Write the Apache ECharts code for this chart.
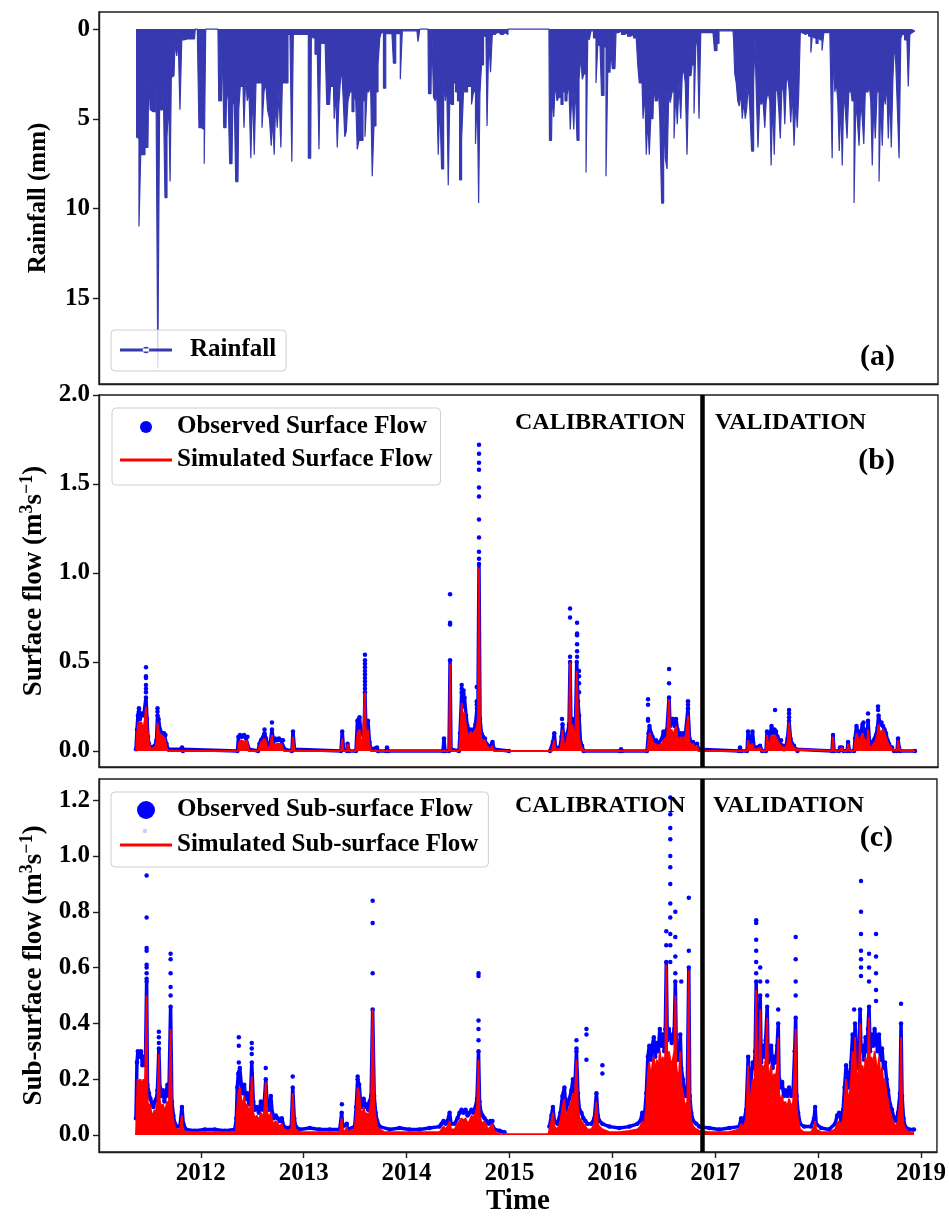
<!DOCTYPE html>
<html>
<head>
<meta charset="utf-8">
<script src="https://cdn.jsdelivr.net/npm/echarts@6/dist/echarts.min.js"></script>
<style>
html,body{margin:0;padding:0;background:#ffffff;}
#chart{width:949px;height:1218px;}
</style>
</head>
<body>
<div id="chart"></div>
<script>
// ---- Daily rainfall (mm), [decimal year, mm] ----
const rainfall = [
[2011.369,6.0],[2011.388,6.1],[2011.408,11.0],[2011.422,7.0],[2011.447,7.0],[2011.466,6.6],[2011.485,6.6],[2011.500,2.6],[2011.514,4.5],[2011.534,4.6],[2011.553,4.6],[2011.573,2.7],[2011.589,18.9],[2011.607,4.5],[2011.626,4.5],[2011.641,3.0],[2011.660,9.4],[2011.680,6.0],[2011.694,4.0],[2011.706,8.5],[2011.718,2.7],[2011.738,2.6],[2011.757,0.8],[2011.772,1.5],[2011.786,0.7],[2011.806,4.5],[2011.821,0.6],[2011.845,0.55],[2011.893,0.55],[2011.937,0.55],[2011.952,0],[2011.976,0],[2011.985,5.5],
[2012.005,5.5],[2012.024,5.6],[2012.039,7.5],[2012.053,0],[2012.165,0],[2012.180,4.0],[2012.199,4.0],[2012.214,0],[2012.228,5.5],[2012.243,5.5],[2012.257,3.0],[2012.272,4.0],[2012.286,7.5],[2012.301,7.5],[2012.316,4.2],[2012.330,4.0],[2012.345,8.5],[2012.359,8.5],[2012.374,4.5],[2012.389,3.2],[2012.408,3.2],[2012.427,5.5],[2012.442,2.6],[2012.456,4.0],[2012.476,3.5],[2012.492,7.2],[2012.510,3.4],[2012.524,7.0],[2012.544,3.0],[2012.563,3.0],[2012.583,3.0],[2012.602,5.5],[2012.621,3.5],[2012.638,3.0],[2012.655,4.5],[2012.675,5.0],[2012.689,6.5],[2012.704,5.0],[2012.718,7.0],[2012.733,4.0],[2012.748,5.5],[2012.767,3.5],[2012.784,6.6],[2012.796,3.0],[2012.816,3.0],[2012.835,3.0],[2012.854,0.3],[2012.874,0.3],[2012.890,7.4],[2012.903,0.3],[2012.961,0.3],
[2013.019,0.3],[2013.065,7.2],[2013.078,0.3],[2013.097,0.5],[2013.117,1.4],[2013.136,0.3],[2013.155,6.7],[2013.170,0.8],[2013.194,0.8],[2013.214,0.5],[2013.228,4.2],[2013.248,4.2],[2013.267,3.2],[2013.286,3.2],[2013.301,5.0],[2013.316,3.5],[2013.330,6.6],[2013.345,4.3],[2013.359,3.0],[2013.374,2.2],[2013.389,4.0],[2013.403,6.0],[2013.418,5.7],[2013.437,4.0],[2013.456,3.5],[2013.476,4.6],[2013.495,3.5],[2013.510,4.0],[2013.524,6.7],[2013.544,6.2],[2013.563,6.2],[2013.583,4.0],[2013.602,6.0],[2013.621,3.5],[2013.641,3.0],[2013.655,3.5],[2013.670,8.2],[2013.689,5.4],[2013.709,3.5],[2013.728,2.0],[2013.743,0.5],[2013.757,0.2],[2013.786,3.3],[2013.801,0.25],[2013.854,0.25],[2013.883,1.9],[2013.898,0.25],[2013.922,0.25],[2013.948,2.8],[2013.961,0.1],
[2014.029,0.1],[2014.097,0.1],[2014.117,0.7],[2014.131,0],[2014.204,0],[2014.214,3.6],[2014.233,3.6],[2014.248,0],[2014.267,3.8],[2014.282,4.0],[2014.296,3.5],[2014.311,7.0],[2014.325,4.0],[2014.347,7.8],[2014.364,2.5],[2014.379,4.0],[2014.393,3.0],[2014.408,8.7],[2014.422,4.0],[2014.442,4.2],[2014.461,3.0],[2014.481,3.5],[2014.500,4.0],[2014.521,8.4],[2014.539,6.2],[2014.558,3.5],[2014.578,3.5],[2014.597,3.2],[2014.617,3.2],[2014.636,4.2],[2014.655,3.5],[2014.675,6.4],[2014.689,3.6],[2014.702,9.7],[2014.714,3.6],[2014.733,2.0],[2014.753,0.4],[2014.767,0.4],[2014.787,5.4],[2014.801,0.5],[2014.821,2.4],[2014.835,0.3],[2014.874,0.2],[2014.913,0.3],[2014.952,0.2],[2014.971,0.3],[2014.990,0],
[2015.378,0],[2015.388,6.2],[2015.403,6.2],[2015.417,3.5],[2015.432,4.9],[2015.447,3.0],[2015.466,4.0],[2015.485,3.8],[2015.505,4.2],[2015.524,3.5],[2015.544,4.0],[2015.563,3.7],[2015.578,3.0],[2015.592,5.6],[2015.612,3.5],[2015.626,5.6],[2015.641,3.0],[2015.660,6.2],[2015.680,2.8],[2015.694,1.5],[2015.709,2.8],[2015.728,2.5],[2015.748,8.0],[2015.762,0.4],[2015.777,0.6],[2015.796,0.1],[2015.825,0.5],[2015.845,3.0],[2015.859,0.9],[2015.874,0.9],[2015.903,3.7],[2015.922,1.0],[2015.942,8.2],[2015.956,2.4],[2015.971,2.4],[2015.985,1.0],
[2016.000,2.2],[2016.019,2.2],[2016.039,0.2],[2016.068,0.1],[2016.097,0.3],[2016.126,0.2],[2016.155,0.4],[2016.184,0.3],[2016.214,0.5],[2016.233,0.3],[2016.248,2.0],[2016.262,3.0],[2016.282,3.0],[2016.301,5.0],[2016.316,3.5],[2016.330,7.0],[2016.345,5.0],[2016.359,7.0],[2016.374,5.0],[2016.388,5.0],[2016.403,3.0],[2016.417,4.0],[2016.432,4.0],[2016.447,3.0],[2016.461,5.0],[2016.483,9.7],[2016.500,4.0],[2016.515,7.2],[2016.534,7.8],[2016.549,3.5],[2016.563,4.1],[2016.583,3.5],[2016.602,6.1],[2016.617,3.5],[2016.631,5.3],[2016.650,3.0],[2016.665,5.0],[2016.680,2.5],[2016.694,2.3],[2016.709,3.0],[2016.728,7.0],[2016.743,2.6],[2016.757,2.6],[2016.777,2.0],[2016.796,4.7],[2016.811,1.0],[2016.825,0.2],[2016.845,5.0],[2016.859,0.2],[2016.912,0.2],[2016.971,0.2],
[2017.000,1.2],[2017.019,0.8],[2017.039,0.1],[2017.165,0.1],[2017.175,0.5],[2017.189,2.5],[2017.204,3.0],[2017.218,4.0],[2017.233,4.3],[2017.248,3.5],[2017.262,5.0],[2017.277,4.0],[2017.291,5.0],[2017.306,4.4],[2017.320,3.0],[2017.335,4.4],[2017.356,6.8],[2017.374,3.0],[2017.383,0.6],[2017.398,3.5],[2017.417,6.6],[2017.432,4.0],[2017.447,4.2],[2017.466,4.0],[2017.480,5.5],[2017.495,4.0],[2017.515,3.5],[2017.529,4.0],[2017.541,7.6],[2017.558,4.0],[2017.573,7.0],[2017.587,3.5],[2017.602,3.3],[2017.617,4.5],[2017.631,6.1],[2017.646,3.5],[2017.660,3.0],[2017.675,5.3],[2017.689,3.0],[2017.704,2.6],[2017.718,3.5],[2017.733,5.2],[2017.748,3.5],[2017.767,6.5],[2017.782,4.0],[2017.796,5.5],[2017.811,3.5],[2017.825,0.2],[2017.854,0.3],[2017.884,0.2],[2017.913,0.4],[2017.929,1.3],[2017.942,0.3],[2017.961,0.5],[2017.981,0.8],
[2018.000,0.4],[2018.019,0.6],[2018.039,1.2],[2018.054,0.2],[2018.088,0.2],[2018.122,0.2],[2018.133,7.2],[2018.146,1.0],[2018.160,3.5],[2018.175,3.0],[2018.189,4.0],[2018.204,6.8],[2018.218,4.0],[2018.233,7.6],[2018.248,3.5],[2018.262,4.5],[2018.282,6.1],[2018.296,3.5],[2018.311,3.5],[2018.330,4.0],[2018.350,9.7],[2018.364,4.0],[2018.379,5.0],[2018.398,6.5],[2018.413,4.0],[2018.427,5.0],[2018.442,6.4],[2018.456,3.5],[2018.476,3.5],[2018.495,3.0],[2018.510,4.0],[2018.524,7.6],[2018.539,4.0],[2018.553,6.1],[2018.573,3.5],[2018.592,8.5],[2018.607,4.0],[2018.621,6.5],[2018.636,3.5],[2018.650,4.2],[2018.665,3.0],[2018.680,6.1],[2018.694,3.5],[2018.709,6.6],[2018.723,3.0],[2018.738,0.7],[2018.753,2.0],[2018.767,4.3],[2018.787,7.2],[2018.801,0.5],[2018.816,0.3],[2018.845,0.6],[2018.859,0.3],[2018.874,3.2],[2018.889,0.3],[2018.903,0.2],[2018.932,0.1]
];

// ---- Surface flow (m3/s) ----
const surfaceSimulated = [
[2011.369,0],[2011.379,0.10],[2011.393,0.16],[2011.408,0.15],[2011.422,0.16],[2011.437,0.12],[2011.451,0.16],[2011.466,0.25],[2011.481,0.12],[2011.495,0.05],[2011.510,0.01],[2011.553,0.02],[2011.568,0.05],[2011.578,0.16],[2011.592,0.10],[2011.612,0.09],[2011.631,0.08],[2011.650,0.07],[2011.665,0.02],[2011.680,0],[2011.806,0],[2011.816,0.01],[2011.825,0],
[2012.359,0],[2012.369,0.05],[2012.389,0.06],[2012.408,0.06],[2012.427,0.05],[2012.447,0.06],[2012.461,0],[2012.554,0],[2012.568,0.03],[2012.583,0.05],[2012.602,0.04],[2012.617,0.07],[2012.631,0.05],[2012.646,0.02],[2012.670,0.02],[2012.689,0.09],[2012.704,0.03],[2012.718,0.04],[2012.738,0.04],[2012.757,0.05],[2012.777,0.04],[2012.796,0.04],[2012.806,0],[2012.883,0],[2012.893,0.08],[2012.908,0],
[2013.359,0],[2013.371,0.07],[2013.384,0],[2013.418,0],[2013.423,0.04],[2013.437,0],[2013.505,0],[2013.519,0.10],[2013.539,0.12],[2013.553,0.06],[2013.568,0.04],[2013.583,0.05],[2013.592,0.33],[2013.602,0.06],[2013.621,0.12],[2013.636,0.03],[2013.650,0],
[2014.408,0],[2014.418,0.49],[2014.427,0],[2014.505,0],[2014.515,0.06],[2014.531,0.27],[2014.544,0.17],[2014.558,0.22],[2014.573,0.14],[2014.587,0.10],[2014.602,0.08],[2014.617,0.11],[2014.631,0.09],[2014.650,0.10],[2014.665,0.12],[2014.680,0.14],[2014.689,0.20],[2014.699,1.03],[2014.709,0.15],[2014.723,0.06],[2014.738,0.05],[2014.757,0.06],[2014.772,0.03],[2014.787,0.02],[2014.806,0.01],[2014.830,0.03],[2014.845,0],
[2015.408,0],[2015.417,0.03],[2015.430,0.06],[2015.442,0.01],[2015.485,0.01],[2015.500,0.05],[2015.510,0.12],[2015.524,0.03],[2015.544,0.04],[2015.558,0.08],[2015.573,0.12],[2015.583,0.50],[2015.592,0.10],[2015.607,0.15],[2015.621,0.10],[2015.636,0.12],[2015.648,0.45],[2015.660,0.20],[2015.670,0.08],[2015.684,0.03],[2015.699,0.02],[2015.714,0],
[2016.330,0],[2016.345,0.06],[2016.354,0.10],[2016.369,0.08],[2016.383,0.06],[2016.398,0.04],[2016.417,0.05],[2016.437,0.03],[2016.456,0.02],[2016.476,0.04],[2016.490,0.06],[2016.505,0.05],[2016.524,0.08],[2016.544,0.29],[2016.554,0.10],[2016.568,0.12],[2016.583,0.09],[2016.597,0.10],[2016.612,0.14],[2016.626,0.08],[2016.641,0.05],[2016.655,0.08],[2016.670,0.06],[2016.685,0.08],[2016.699,0.05],[2016.714,0.04],[2016.728,0.20],[2016.743,0.05],[2016.757,0.03],[2016.777,0.04],[2016.796,0.02],[2016.816,0.03],[2016.830,0],
[2017.223,0],[2017.233,0.01],[2017.243,0],[2017.301,0],[2017.311,0.06],[2017.325,0.03],[2017.340,0.02],[2017.354,0.04],[2017.369,0.01],[2017.398,0.01],[2017.427,0.02],[2017.447,0],[2017.485,0],[2017.495,0.09],[2017.510,0.03],[2017.524,0.05],[2017.539,0.09],[2017.553,0.07],[2017.568,0.09],[2017.582,0.08],[2017.597,0.06],[2017.612,0.04],[2017.631,0.05],[2017.646,0.02],[2017.660,0.01],[2017.680,0.02],[2017.694,0.05],[2017.709,0.16],[2017.723,0.05],[2017.738,0.03],[2017.757,0.02],[2017.777,0.01],[2017.791,0],
[2018.126,0],[2018.136,0.08],[2018.146,0],[2018.194,0],[2018.204,0.01],[2018.223,0.02],[2018.238,0],[2018.272,0],[2018.282,0.04],[2018.296,0],[2018.340,0],[2018.350,0.05],[2018.364,0.10],[2018.379,0.07],[2018.393,0.04],[2018.408,0.08],[2018.422,0.10],[2018.437,0.07],[2018.451,0.06],[2018.466,0.04],[2018.476,0.12],[2018.490,0.03],[2018.505,0.01],[2018.519,0.03],[2018.534,0.04],[2018.553,0.06],[2018.568,0.10],[2018.578,0.15],[2018.592,0.10],[2018.607,0.11],[2018.621,0.12],[2018.636,0.10],[2018.650,0.09],[2018.665,0.05],[2018.680,0.03],[2018.694,0.02],[2018.709,0.01],[2018.728,0],[2018.757,0],[2018.767,0.06],[2018.777,0.02],[2018.787,0],[2018.932,0]
];

// observed daily surface flow (null = no record)
const surfaceObserved = [
[2011.369,0.01],[2011.379,0.12],[2011.388,0.20],[2011.398,0.24],[2011.408,0.18],[2011.418,0.21],[2011.432,0.20],[2011.447,0.21],[2011.456,0.20],[2011.466,0.30],[2011.476,0.18],[2011.485,0.08],[2011.495,0.04],[2011.510,0.02],[2011.553,0.03],[2011.568,0.06],[2011.578,0.20],[2011.588,0.18],[2011.602,0.12],[2011.621,0.10],[2011.641,0.10],[2011.655,0.09],[2011.665,0.04],[2011.680,0.01],[2011.806,0.01],[2011.816,0.02],[2011.825,0],
[2012.354,0],[2012.364,0.08],[2012.379,0.09],[2012.398,0.08],[2012.418,0.09],[2012.437,0.07],[2012.451,0.08],[2012.466,0.01],[2012.554,0],[2012.568,0.04],[2012.583,0.06],[2012.602,0.07],[2012.617,0.10],[2012.631,0.07],[2012.650,0.03],[2012.670,0.03],[2012.689,0.12],[2012.704,0.05],[2012.718,0.07],[2012.738,0.06],[2012.757,0.07],[2012.777,0.06],[2012.796,0.06],[2012.811,0.01],[2012.883,0],[2012.893,0.11],[2012.908,0.01],
[2013.359,0],[2013.371,0.11],[2013.384,0.01],[2013.418,0],[2013.423,0.04],[2013.437,0],[2013.505,0],[2013.519,0.17],[2013.539,0.19],[2013.553,0.10],[2013.568,0.10],[2013.583,0.08],[2013.592,0.33],[2013.602,0.10],[2013.621,0.17],[2013.636,0.05],[2013.650,0.01],[2013.709,0.02],[2013.718,0],[2013.796,0],[2013.806,0.02],[2013.816,0],
[2014.350,0],[2014.359,0.07],[2014.369,0],[2014.408,0],[2014.418,0.51],[2014.427,0.01],[2014.505,0],[2014.515,0.10],[2014.531,0.33],[2014.544,0.25],[2014.558,0.30],[2014.573,0.20],[2014.587,0.14],[2014.602,0.10],[2014.617,0.12],[2014.631,0.10],[2014.650,0.12],[2014.665,0.15],[2014.680,0.24],[2014.689,0.26],[2014.699,1.05],[2014.709,0.18],[2014.723,0.10],[2014.738,0.08],[2014.757,0.07],[2014.772,0.04],[2014.787,0.03],[2014.806,0.02],[2014.830,0.05],[2014.845,0.01],[2014.990,0],
[2015.200,null],
[2015.388,0],[2015.417,0.05],[2015.430,0.10],[2015.442,0.02],[2015.485,0.02],[2015.500,0.08],[2015.510,0.15],[2015.524,0.05],[2015.544,0.06],[2015.558,0.10],[2015.573,0.15],[2015.583,0.50],[2015.592,0.14],[2015.607,0.18],[2015.621,0.12],[2015.636,0.15],[2015.648,0.50],[2015.660,0.28],[2015.670,0.20],[2015.684,0.05],[2015.699,0.03],[2015.714,0],
[2016.068,0],[2016.078,0.01],[2016.087,0],[2016.330,0],[2016.345,0.10],[2016.354,0.14],[2016.369,0.10],[2016.383,0.08],[2016.398,0.06],[2016.417,0.06],[2016.437,0.04],[2016.456,0.03],[2016.476,0.07],[2016.490,0.11],[2016.505,0.08],[2016.524,0.12],[2016.544,0.30],[2016.554,0.14],[2016.568,0.16],[2016.583,0.18],[2016.597,0.14],[2016.612,0.18],[2016.626,0.12],[2016.641,0.08],[2016.655,0.10],[2016.670,0.08],[2016.685,0.10],[2016.699,0.07],[2016.714,0.06],[2016.728,0.24],[2016.743,0.07],[2016.757,0.04],[2016.777,0.05],[2016.796,0.03],[2016.816,0.04],[2016.830,0.01],
[2017.223,0],[2017.233,0.02],[2017.243,0],[2017.301,0],[2017.311,0.11],[2017.325,0.05],[2017.340,0.03],[2017.354,0.11],[2017.369,0.02],[2017.398,0.02],[2017.427,0.03],[2017.447,0],[2017.485,0],[2017.495,0.11],[2017.510,0.05],[2017.524,0.08],[2017.539,0.14],[2017.553,0.10],[2017.568,0.12],[2017.582,0.11],[2017.597,0.08],[2017.612,0.05],[2017.631,0.06],[2017.646,0.03],[2017.660,0.01],[2017.680,0.03],[2017.694,0.07],[2017.709,0.17],[2017.723,0.07],[2017.738,0.04],[2017.757,0.03],[2017.777,0.01],[2017.791,0],
[2018.126,0],[2018.136,0.09],[2018.146,0],[2018.194,0],[2018.204,0.02],[2018.223,0.02],[2018.238,0],[2018.272,0],[2018.282,0.05],[2018.296,0],[2018.340,0],[2018.350,0.07],[2018.364,0.14],[2018.379,0.10],[2018.393,0.06],[2018.408,0.11],[2018.422,0.15],[2018.437,0.12],[2018.451,0.08],[2018.466,0.06],[2018.476,0.17],[2018.490,0.05],[2018.505,0.02],[2018.519,0.05],[2018.534,0.06],[2018.553,0.09],[2018.568,0.13],[2018.578,0.20],[2018.592,0.15],[2018.607,0.16],[2018.621,0.14],[2018.636,0.12],[2018.650,0.10],[2018.665,0.06],[2018.680,0.04],[2018.694,0.02],[2018.709,0.02],[2018.728,0],[2018.757,0],[2018.767,0.07],[2018.777,0.02],[2018.787,0],[2018.932,0]
];

// observed surface flow on peak days: [decimal year, [values]]
const surfacePeaks = [
[2011.398,[0.22]],[2011.466,[0.47,0.42,0.41,0.37,0.35,0.33]],[2011.578,[0.24,0.22]],
[2012.617,[0.12]],[2012.689,[0.16]],
[2013.592,[0.54,0.51,0.49,0.47,0.45,0.43,0.41,0.39,0.37,0.35]],
[2014.418,[0.88,0.72,0.71]],[2014.531,[0.37,0.35]],[2014.549,[0.34,0.32]],[2014.677,[0.36,0.28,0.26]],
[2014.699,[1.72,1.67,1.62,1.58,1.48,1.43,1.30,1.20,1.12,1.08]],
[2015.505,[0.18]],[2015.583,[0.80,0.75,0.53]],[2015.651,[0.72,0.66,0.65,0.60,0.56,0.53]],[2015.670,[0.45,0.42,0.38,0.33]],
[2016.340,[0.29,0.26,0.18,0.17]],[2016.544,[0.46,0.38]],[2016.578,[0.18]],[2016.728,[0.28,0.26]],
[2017.573,[0.23]],[2017.709,[0.23,0.21,0.19]],
[2018.432,[0.16]],[2018.476,[0.21]],[2018.573,[0.25,0.23]]
];

// ---- Sub-surface flow (m3/s) ----
const subsurfaceSimulated = [
[2011.369,0],[2011.374,0.06],[2011.384,0.20],[2011.398,0.19],[2011.413,0.20],[2011.427,0.18],[2011.442,0.20],[2011.456,0.18],[2011.473,0.50],[2011.481,0.13],[2011.490,0.10],[2011.505,0.11],[2011.519,0.08],[2011.534,0.07],[2011.549,0.09],[2011.563,0.08],[2011.578,0.12],[2011.592,0.29],[2011.602,0.12],[2011.617,0.10],[2011.631,0.11],[2011.646,0.09],[2011.660,0.10],[2011.675,0.12],[2011.689,0.10],[2011.706,0.38],[2011.718,0.09],[2011.733,0.05],[2011.748,0.03],[2011.767,0.02],[2011.796,0.02],[2011.816,0.07],[2011.825,0.02],[2011.855,0.01],[2011.990,0.01],
[2012.136,0.01],[2012.282,0.01],[2012.340,0.01],[2012.350,0.08],[2012.364,0.15],[2012.379,0.17],[2012.393,0.13],[2012.408,0.10],[2012.422,0.14],[2012.437,0.09],[2012.451,0.11],[2012.466,0.08],[2012.481,0.10],[2012.495,0.21],[2012.510,0.08],[2012.524,0.06],[2012.544,0.07],[2012.563,0.05],[2012.583,0.08],[2012.602,0.06],[2012.617,0.09],[2012.631,0.19],[2012.646,0.08],[2012.660,0.06],[2012.680,0.08],[2012.694,0.05],[2012.709,0.04],[2012.728,0.05],[2012.748,0.04],[2012.767,0.03],[2012.787,0.04],[2012.806,0.02],[2012.845,0.015],[2012.879,0.02],[2012.893,0.15],[2012.908,0.04],[2012.922,0.02],[2012.961,0.01],
[2013.155,0.01],[2013.350,0.01],[2013.359,0.03],[2013.369,0.06],[2013.379,0.02],[2013.408,0.01],[2013.418,0.03],[2013.427,0.01],[2013.495,0.02],[2013.510,0.08],[2013.524,0.17],[2013.539,0.15],[2013.553,0.09],[2013.568,0.07],[2013.583,0.10],[2013.597,0.07],[2013.612,0.08],[2013.626,0.06],[2013.641,0.09],[2013.655,0.12],[2013.670,0.45],[2013.685,0.12],[2013.699,0.06],[2013.714,0.03],[2013.738,0.02],[2013.786,0.01],[2013.932,0.01],
[2014.126,0.01],[2014.320,0.01],[2014.340,0.02],[2014.359,0.03],[2014.379,0.02],[2014.398,0.03],[2014.418,0.05],[2014.432,0.02],[2014.466,0.02],[2014.495,0.04],[2014.515,0.05],[2014.534,0.06],[2014.553,0.05],[2014.573,0.06],[2014.592,0.04],[2014.612,0.05],[2014.631,0.07],[2014.650,0.06],[2014.670,0.08],[2014.684,0.10],[2014.699,0.27],[2014.709,0.08],[2014.723,0.05],[2014.738,0.04],[2014.757,0.05],[2014.777,0.03],[2014.796,0.02],[2014.816,0.03],[2014.835,0.04],[2014.855,0.01],[2014.903,0.003],
[2015.378,0.003],[2015.388,0.02],[2015.408,0.05],[2015.422,0.08],[2015.437,0.03],[2015.466,0.02],[2015.495,0.05],[2015.515,0.10],[2015.534,0.13],[2015.549,0.06],[2015.563,0.08],[2015.583,0.10],[2015.602,0.12],[2015.617,0.15],[2015.631,0.10],[2015.651,0.27],[2015.665,0.10],[2015.680,0.06],[2015.699,0.05],[2015.718,0.04],[2015.738,0.03],[2015.757,0.02],[2015.796,0.02],[2015.825,0.04],[2015.845,0.12],[2015.859,0.04],[2015.874,0.03],[2015.903,0.02],[2015.971,0.01],
[2016.068,0.01],[2016.165,0.015],[2016.243,0.02],[2016.272,0.03],[2016.291,0.05],[2016.306,0.02],[2016.330,0.10],[2016.345,0.22],[2016.359,0.26],[2016.374,0.20],[2016.388,0.25],[2016.403,0.28],[2016.417,0.22],[2016.432,0.27],[2016.447,0.23],[2016.461,0.30],[2016.476,0.25],[2016.490,0.28],[2016.505,0.24],[2016.515,0.30],[2016.524,0.61],[2016.534,0.26],[2016.549,0.30],[2016.563,0.27],[2016.578,0.25],[2016.592,0.28],[2016.602,0.30],[2016.612,0.50],[2016.621,0.25],[2016.636,0.20],[2016.650,0.23],[2016.660,0.30],[2016.670,0.18],[2016.685,0.15],[2016.699,0.12],[2016.714,0.10],[2016.728,0.12],[2016.743,0.59],[2016.752,0.10],[2016.767,0.05],[2016.786,0.03],[2016.816,0.02],[2016.845,0.015],[2016.942,0.01],
[2017.039,0.01],[2017.136,0.01],[2017.233,0.02],[2017.252,0.04],[2017.272,0.02],[2017.301,0.06],[2017.320,0.25],[2017.335,0.08],[2017.349,0.15],[2017.364,0.20],[2017.379,0.18],[2017.388,0.25],[2017.398,0.52],[2017.408,0.22],[2017.422,0.18],[2017.437,0.45],[2017.447,0.20],[2017.461,0.25],[2017.476,0.22],[2017.490,0.28],[2017.505,0.42],[2017.515,0.20],[2017.529,0.22],[2017.544,0.25],[2017.558,0.18],[2017.573,0.22],[2017.587,0.20],[2017.602,0.25],[2017.612,0.35],[2017.621,0.15],[2017.636,0.12],[2017.651,0.14],[2017.665,0.10],[2017.680,0.12],[2017.699,0.10],[2017.718,0.13],[2017.738,0.10],[2017.757,0.12],[2017.772,0.25],[2017.782,0.38],[2017.791,0.10],[2017.806,0.05],[2017.825,0.02],[2017.864,0.01],[2017.932,0.01],[2017.961,0.03],[2017.971,0.05],[2017.981,0.02],
[2018.029,0.01],[2018.107,0.01],[2018.165,0.02],[2018.185,0.04],[2018.204,0.05],[2018.223,0.03],[2018.243,0.06],[2018.257,0.12],[2018.272,0.20],[2018.287,0.15],[2018.301,0.12],[2018.320,0.20],[2018.335,0.30],[2018.350,0.20],[2018.359,0.35],[2018.374,0.18],[2018.388,0.22],[2018.398,0.25],[2018.408,0.40],[2018.417,0.22],[2018.432,0.25],[2018.447,0.20],[2018.461,0.28],[2018.476,0.22],[2018.485,0.30],[2018.495,0.42],[2018.505,0.22],[2018.519,0.28],[2018.534,0.25],[2018.549,0.30],[2018.563,0.26],[2018.578,0.22],[2018.592,0.28],[2018.607,0.20],[2018.621,0.24],[2018.636,0.18],[2018.650,0.20],[2018.665,0.15],[2018.680,0.12],[2018.699,0.08],[2018.718,0.06],[2018.738,0.04],[2018.757,0.03],[2018.777,0.05],[2018.796,0.12],[2018.806,0.35],[2018.816,0.10],[2018.830,0.04],[2018.845,0.02],[2018.884,0.01],[2018.932,0.01]
];

// observed daily sub-surface flow (null = no record)
const subsurfaceObserved = [
[2011.369,0.06],[2011.379,0.26],[2011.388,0.30],[2011.403,0.28],[2011.418,0.30],[2011.432,0.25],[2011.447,0.28],[2011.461,0.25],[2011.473,0.55],[2011.481,0.18],[2011.495,0.15],[2011.510,0.13],[2011.524,0.11],[2011.539,0.10],[2011.553,0.12],[2011.568,0.13],[2011.578,0.16],[2011.592,0.31],[2011.602,0.17],[2011.617,0.14],[2011.631,0.16],[2011.646,0.12],[2011.660,0.15],[2011.675,0.18],[2011.689,0.14],[2011.706,0.46],[2011.718,0.12],[2011.733,0.07],[2011.748,0.04],[2011.767,0.03],[2011.796,0.03],[2011.816,0.10],[2011.830,0.04],[2011.855,0.02],[2011.942,0.015],
[2012.039,0.02],[2012.136,0.02],[2012.233,0.015],[2012.330,0.02],[2012.345,0.06],[2012.354,0.17],[2012.364,0.22],[2012.379,0.24],[2012.393,0.18],[2012.408,0.15],[2012.422,0.18],[2012.437,0.13],[2012.451,0.15],[2012.466,0.11],[2012.481,0.13],[2012.495,0.26],[2012.510,0.12],[2012.524,0.09],[2012.544,0.10],[2012.563,0.08],[2012.583,0.12],[2012.602,0.09],[2012.617,0.12],[2012.631,0.20],[2012.646,0.10],[2012.660,0.09],[2012.680,0.14],[2012.694,0.08],[2012.709,0.06],[2012.728,0.07],[2012.748,0.06],[2012.767,0.05],[2012.787,0.06],[2012.806,0.03],[2012.845,0.025],[2012.879,0.03],[2012.893,0.17],[2012.908,0.06],[2012.922,0.03],[2012.961,0.02],
[2013.058,0.025],[2013.155,0.02],[2013.252,0.02],[2013.350,0.02],[2013.369,0.08],[2013.379,0.03],[2013.418,0.04],[2013.427,0.02],[2013.495,0.03],[2013.510,0.10],[2013.524,0.20],[2013.539,0.18],[2013.553,0.12],[2013.568,0.10],[2013.583,0.13],[2013.597,0.10],[2013.612,0.11],[2013.626,0.09],[2013.641,0.12],[2013.655,0.14],[2013.670,0.45],[2013.685,0.14],[2013.699,0.08],[2013.714,0.05],[2013.738,0.03],[2013.835,0.02],[2013.932,0.025],
[2014.029,0.02],[2014.126,0.02],[2014.223,0.025],[2014.320,0.03],[2014.340,0.04],[2014.359,0.05],[2014.379,0.04],[2014.398,0.05],[2014.418,0.08],[2014.432,0.04],[2014.466,0.04],[2014.495,0.06],[2014.515,0.08],[2014.534,0.09],[2014.553,0.08],[2014.573,0.09],[2014.592,0.07],[2014.612,0.08],[2014.631,0.09],[2014.650,0.08],[2014.670,0.10],[2014.684,0.13],[2014.699,0.30],[2014.709,0.12],[2014.723,0.08],[2014.738,0.07],[2014.757,0.06],[2014.777,0.05],[2014.796,0.04],[2014.816,0.05],[2014.835,0.05],[2014.855,0.02],[2014.903,0.015],[2014.952,0.01],
[2015.200,null],
[2015.388,0.03],[2015.408,0.07],[2015.422,0.10],[2015.437,0.05],[2015.466,0.04],[2015.495,0.08],[2015.515,0.14],[2015.534,0.17],[2015.549,0.09],[2015.563,0.11],[2015.583,0.13],[2015.602,0.16],[2015.617,0.20],[2015.631,0.14],[2015.651,0.30],[2015.665,0.15],[2015.680,0.09],[2015.699,0.08],[2015.718,0.06],[2015.738,0.05],[2015.757,0.04],[2015.796,0.04],[2015.825,0.06],[2015.845,0.15],[2015.859,0.07],[2015.874,0.05],[2015.903,0.04],[2015.971,0.03],
[2016.068,0.025],[2016.165,0.03],[2016.243,0.04],[2016.272,0.05],[2016.291,0.08],[2016.306,0.04],[2016.330,0.15],[2016.345,0.28],[2016.359,0.32],[2016.374,0.27],[2016.388,0.32],[2016.403,0.35],[2016.417,0.28],[2016.432,0.33],[2016.447,0.30],[2016.461,0.38],[2016.476,0.32],[2016.490,0.36],[2016.505,0.30],[2016.515,0.38],[2016.524,0.62],[2016.534,0.34],[2016.549,0.38],[2016.563,0.35],[2016.578,0.33],[2016.592,0.36],[2016.602,0.38],[2016.612,0.55],[2016.621,0.32],[2016.636,0.27],[2016.650,0.30],[2016.660,0.36],[2016.670,0.24],[2016.685,0.20],[2016.699,0.16],[2016.714,0.14],[2016.728,0.16],[2016.743,0.60],[2016.752,0.14],[2016.767,0.08],[2016.786,0.05],[2016.816,0.04],[2016.845,0.03],[2016.942,0.025],
[2017.039,0.02],[2017.136,0.025],[2017.233,0.03],[2017.252,0.06],[2017.272,0.04],[2017.301,0.09],[2017.320,0.28],[2017.335,0.12],[2017.349,0.20],[2017.364,0.26],[2017.379,0.24],[2017.388,0.30],[2017.398,0.55],[2017.408,0.28],[2017.422,0.24],[2017.437,0.50],[2017.447,0.26],[2017.461,0.32],[2017.476,0.28],[2017.490,0.34],[2017.505,0.46],[2017.515,0.26],[2017.529,0.28],[2017.544,0.32],[2017.558,0.24],[2017.573,0.28],[2017.587,0.26],[2017.602,0.32],[2017.612,0.40],[2017.621,0.20],[2017.636,0.17],[2017.651,0.19],[2017.665,0.14],[2017.680,0.16],[2017.699,0.14],[2017.718,0.17],[2017.738,0.14],[2017.757,0.16],[2017.772,0.30],[2017.782,0.42],[2017.791,0.14],[2017.806,0.08],[2017.825,0.04],[2017.864,0.03],[2017.932,0.03],[2017.961,0.06],[2017.971,0.10],[2017.981,0.04],
[2018.029,0.025],[2018.107,0.02],[2018.165,0.04],[2018.185,0.07],[2018.204,0.08],[2018.223,0.05],[2018.243,0.09],[2018.257,0.17],[2018.272,0.25],[2018.287,0.20],[2018.301,0.17],[2018.320,0.26],[2018.335,0.36],[2018.350,0.26],[2018.359,0.40],[2018.374,0.24],[2018.388,0.28],[2018.398,0.32],[2018.408,0.45],[2018.417,0.30],[2018.432,0.32],[2018.447,0.27],[2018.461,0.35],[2018.476,0.30],[2018.485,0.38],[2018.495,0.46],[2018.505,0.30],[2018.519,0.36],[2018.534,0.32],[2018.549,0.38],[2018.563,0.34],[2018.578,0.30],[2018.592,0.36],[2018.607,0.27],[2018.621,0.31],[2018.636,0.24],[2018.650,0.26],[2018.665,0.20],[2018.680,0.16],[2018.699,0.11],[2018.718,0.09],[2018.738,0.06],[2018.757,0.05],[2018.777,0.08],[2018.796,0.15],[2018.806,0.40],[2018.816,0.14],[2018.830,0.06],[2018.845,0.03],[2018.884,0.02],[2018.932,0.02]
];

// observed sub-surface flow on peak days: [decimal year, [values]]
const subsurfacePeaks = [
[2011.456,[1.09]],[2011.473,[0.93,0.78,0.67,0.66,0.61,0.60,0.58,0.56]],[2011.592,[0.37,0.35,0.33]],[2011.706,[0.65,0.63,0.58,0.53,0.50]],
[2012.369,[0.35,0.32,0.26]],[2012.495,[0.33,0.31,0.29]],[2012.631,[0.24]],[2012.893,[0.21]],
[2013.371,[0.11]],[2013.524,[0.21]],[2013.670,[0.84,0.76,0.58]],
[2014.699,[0.58,0.57,0.41,0.38,0.34]],
[2015.651,[0.34,0.31]],[2015.748,[0.38,0.36,0.27]],[2015.903,[0.25,0.22]],
[2016.524,[0.73,0.68]],[2016.563,[1.21,1.15,1.10,1.06,1.00,0.96,0.90,0.83,0.78,0.72,0.68,0.62]],[2016.612,[0.80,0.71,0.64,0.58]],[2016.670,[0.55]],[2016.743,[0.85,0.66]],
[2017.398,[0.77,0.76,0.70,0.66,0.62,0.58]],[2017.437,[0.60,0.55]],[2017.505,[0.55,0.50]],[2017.612,[0.45]],[2017.782,[0.71,0.63,0.55,0.50]],
[2018.350,[0.45]],[2018.417,[0.91,0.80,0.72,0.66,0.63,0.60,0.57]],[2018.495,[0.65,0.60,0.55]],[2018.563,[0.72,0.64,0.58,0.52,0.48]],[2018.806,[0.47]]
];

// calibration / validation split (decimal year)
const splitTime = 2016.874;

// tick positions
const yearTicks = [2012, 2013, 2014, 2015, 2016, 2017, 2018, 2019];
const rainTicks = [0, 5, 10, 15];
const surfaceTicks = [0, 0.5, 1.0, 1.5, 2.0];
const subsurfaceTicks = [0, 0.2, 0.4, 0.6, 0.8, 1.0, 1.2];

// ---------------------------------------------------------------
const FONT = "'Liberation Serif','Times New Roman',Times,serif";
const RAIN_BLUE = '#3639b0';
const OBS_BLUE = '#0000ff';
const SIM_RED = '#ff0000';
const FRAME = '#1e1e1e';

const X_MIN = 2011.010, X_MAX = 2019.155;

function flattenPeaks(peaks) {
  const out = [];
  peaks.forEach(([t, vals]) => vals.forEach(v => out.push([t, v])));
  return out;
}

const grids = [
  { left: 99, top: 12, width: 839, height: 372 },
  { left: 99, top: 395, width: 839, height: 372 },
  { left: 99, top: 779, width: 839, height: 373 }
].map(g => Object.assign(g, { show: true, borderColor: FRAME, borderWidth: 1.4, backgroundColor: 'transparent' }));

const tickFont = { fontFamily: FONT, fontWeight: 'bold', fontSize: 25, color: '#000' };
function nameFont(size) {
  return {
    fontFamily: FONT, fontWeight: 'bold', fontSize: size, color: '#000',
    rich: {
      sup: { fontFamily: FONT, fontWeight: 'bold', fontSize: Math.round(size * 0.66), color: '#000', verticalAlign: 'top', lineHeight: size + 6 }
    }
  };
}

const xAxes = [0, 1, 2].map(i => ({
  type: 'value', gridIndex: i, min: X_MIN, max: X_MAX,
  axisLine: { show: true, onZero: false, lineStyle: { color: FRAME, width: 1.4 } },
  axisTick: { show: i === 2, customValues: yearTicks, length: 6, lineStyle: { color: FRAME, width: 1.4 } },
  axisLabel: { show: i === 2, customValues: yearTicks, margin: 9, formatter: v => String(Math.round(v)), ...tickFont },
  splitLine: { show: false },
  name: i === 2 ? 'Time' : '', nameLocation: 'middle', nameGap: 34,
  nameTextStyle: { fontFamily: FONT, fontWeight: 'bold', fontSize: 29, color: '#000' }
}));

function yAxis(i, min, max, ticks, fmt, name, size, gap, inverse) {
  return {
    type: 'value', gridIndex: i, min, max, inverse: !!inverse,
    axisLine: { show: true, lineStyle: { color: FRAME, width: 1.4 } },
    axisTick: { show: true, customValues: ticks, length: 6, lineStyle: { color: FRAME, width: 1.4 } },
    axisLabel: { customValues: ticks, margin: 9, formatter: fmt, ...tickFont },
    splitLine: { show: false },
    name, nameLocation: 'middle', nameRotate: 90, nameGap: gap, nameTextStyle: nameFont(size)
  };
}

const yAxes = [
  yAxis(0, -0.95, 19.78, rainTicks, v => String(Math.round(v)), 'Rainfall (mm)', 25, 48, true),
  yAxis(1, -0.09, 2.0, surfaceTicks, v => v.toFixed(1), 'Surface flow (m{sup|3}s{sup|\u22121})', 27, 48),
  yAxis(2, -0.061, 1.276, subsurfaceTicks, v => v.toFixed(1), 'Sub-surface flow (m{sup|3}s{sup|\u22121})', 27, 48)
];

const splitMark = {
  silent: true, symbol: ['none', 'none'], label: { show: false },
  lineStyle: { color: '#000', width: 4.5, type: 'solid' },
  emphasis: { disabled: true },
  data: [{ xAxis: splitTime }]
};

function observedSeries(name, idx, data) {
  return {
    name, type: 'line', xAxisIndex: idx, yAxisIndex: idx, data,
    symbol: 'circle', symbolSize: 4.5, showSymbol: true, connectNulls: false,
    itemStyle: { color: OBS_BLUE }, lineStyle: { color: OBS_BLUE, width: 3.5 },
    z: 2, emphasis: { disabled: true }
  };
}
function peakSeries(name, idx, peaks) {
  return {
    name, type: 'scatter', xAxisIndex: idx, yAxisIndex: idx, data: flattenPeaks(peaks),
    symbol: 'circle', symbolSize: 4.5, itemStyle: { color: OBS_BLUE, opacity: 1 },
    z: 2, emphasis: { disabled: true }
  };
}
function simulatedSeries(name, idx, data) {
  return {
    name, type: 'line', xAxisIndex: idx, yAxisIndex: idx, data,
    symbol: 'none', lineStyle: { color: SIM_RED, width: 1.8 },
    itemStyle: { color: SIM_RED },
    areaStyle: { color: SIM_RED, opacity: 1 },
    z: 3, emphasis: { disabled: true },
    markLine: splitMark
  };
}

const series = [
  {
    name: 'Rainfall', type: 'line', xAxisIndex: 0, yAxisIndex: 0, data: rainfall,
    step: 'middle', symbol: 'circle', symbolSize: 4, showSymbol: false,
    lineStyle: { color: RAIN_BLUE, width: 1.2 }, itemStyle: { color: RAIN_BLUE },
    areaStyle: { color: RAIN_BLUE, opacity: 1 }, emphasis: { disabled: true }
  },
  observedSeries('Observed Surface Flow', 1, surfaceObserved),
  peakSeries('Observed Surface Flow', 1, surfacePeaks),
  simulatedSeries('Simulated Surface Flow', 1, surfaceSimulated),
  observedSeries('Observed Sub-surface Flow', 2, subsurfaceObserved),
  peakSeries('Observed Sub-surface Flow', 2, subsurfacePeaks),
  simulatedSeries('Simulated Sub-surface Flow', 2, subsurfaceSimulated)
];

const legendText = { fontFamily: FONT, fontWeight: 'bold', fontSize: 25, color: '#000', lineHeight: 26 };
const legendBox = {
  orient: 'vertical', itemWidth: 52, selectedMode: false,
  backgroundColor: 'rgba(255,255,255,0.8)', borderColor: '#cfcfcf', borderWidth: 1, borderRadius: 4
};
const LINE_ICON = 'path://M0,0H52V3H0Z';
const RAIN_ICON = 'path://M0,1.5H52V4.5H0Z M22.8,3A3.2,3.2 0 1,0 29.2,3A3.2,3.2 0 1,0 22.8,3Z';

const legends = [
  Object.assign({}, legendBox, {
    left: 111, top: 330, itemHeight: 7, padding: [7, 10, 8, 9],
    textStyle: Object.assign({}, legendText, { padding: [0, 0, 0, 13] }),
    data: [{ name: 'Rainfall', icon: RAIN_ICON, itemStyle: { color: RAIN_BLUE, borderWidth: 0 } }]
  }),
  Object.assign({}, legendBox, {
    left: 112, top: 408, itemHeight: 12, itemGap: 7, padding: [6, 8, 12, 8],
    textStyle: legendText,
    data: [
      { name: 'Observed Surface Flow', icon: 'circle', itemStyle: { color: OBS_BLUE, borderWidth: 0 } },
      { name: 'Simulated Surface Flow', icon: LINE_ICON, itemStyle: { color: SIM_RED, borderWidth: 0 } }
    ]
  }),
  Object.assign({}, legendBox, {
    left: 111, top: 792, itemHeight: 18, itemGap: 9, padding: [5, 10, 9, 9],
    textStyle: legendText,
    data: [
      { name: 'Observed Sub-surface Flow', icon: 'circle', itemStyle: { color: OBS_BLUE, borderWidth: 0 } },
      { name: 'Simulated Sub-surface Flow', icon: LINE_ICON, itemStyle: { color: SIM_RED, borderWidth: 0 } }
    ]
  })
];

function label(text, x, y, size, align) {
  return {
    type: 'text', x, y, z: 50, silent: true,
    style: {
      text, fill: '#000', fontFamily: FONT, fontWeight: 'bold', fontSize: size,
      textAlign: align, textVerticalAlign: 'middle', align, verticalAlign: 'middle'
    }
  };
}

const graphics = [
  label('(a)', 895, 357, 30, 'right'),
  label('CALIBRATION', 515, 423, 24, 'left'),
  label('VALIDATION', 715, 423, 24, 'left'),
  label('(b)', 895, 461, 30, 'right'),
  label('CALIBRATION', 515, 806, 24, 'left'),
  label('VALIDATION', 713, 806, 24, 'left'),
  label('(c)', 893, 838, 30, 'right')
];

const chart = echarts.init(document.getElementById('chart'), null, { renderer: 'canvas' });
chart.setOption({
  animation: false,
  backgroundColor: '#ffffff',
  grid: grids,
  xAxis: xAxes,
  yAxis: yAxes,
  legend: legends,
  graphic: graphics,
  series
});
</script>
</body>
</html>
